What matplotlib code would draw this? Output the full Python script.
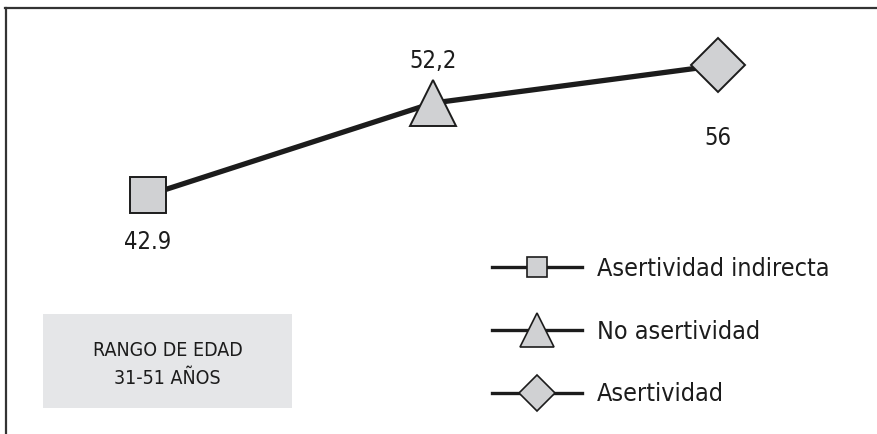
import matplotlib.pyplot as plt
from matplotlib import font_manager
from matplotlib.lines import Line2D
from matplotlib.patches import Rectangle

# pick a regular-weight narrow face if one is installed
narrow = None
for f in font_manager.fontManager.ttflist:
    if f.stretch in ('condensed', 'semi-condensed', 'extra-condensed') or \
            'Condensed' in f.fname or f.name == 'Liberation Sans Narrow':
        if f.weight in ('normal', 400, 'regular') and f.style == 'normal':
            narrow = f.fname
            break
if narrow:
    fp = font_manager.FontProperties(fname=narrow)
else:
    fp = font_manager.FontProperties(family='DejaVu Sans')
plt.rcParams['font.family'] = ['DejaVu Sans']

categories = ['Asertividad indirecta', 'No asertividad', 'Asertividad']
values = [42.9, 52.2, 56.0]
value_labels = ['42.9', '52,2', '56']
markers = ['s', '^', 'D']
marker_sizes = [26, 33, 27]
label_offsets = [(0, -34), (0, 30), (0, -52)]
box_lines = ['RANGO DE EDAD', '31-51 AÑOS']

face = '#d0d1d3'
ink = '#1c1c1c'

fig = plt.figure(figsize=(8.77, 4.34), dpi=100)
ax = fig.add_axes([0, 0, 1, 1])
ax.set_xlim(-0.519, 2.558)
ax.set_ylim(18.8, 62.6)
ax.axis('off')

xs = list(range(len(values)))
ax.plot(xs, values, color=ink, lw=3.8, zorder=2, solid_capstyle='butt')
for x, v, m, ms, lab, off in zip(xs, values, markers, marker_sizes,
                                 value_labels, label_offsets):
    ax.plot(x, v, marker=m, ms=ms, mfc=face, mec=ink, mew=1.4, zorder=3)
    ax.annotate(lab, (x, v), xytext=off, textcoords='offset points',
                ha='center', va='center', fontproperties=fp, fontsize=17,
                color=ink)

# legend with smaller marker keys
handles = [Line2D([], [], color=ink, lw=2.4, marker=m, ms=s, mfc=face,
                  mec=ink, mew=1.2)
           for m, s in zip(markers, [14, 24, 18])]
leg_fp = fp.copy()
leg_fp.set_size(18)
ax.legend(handles, categories, loc='upper left',
          bbox_to_anchor=(0.535, 0.46), frameon=False, prop=leg_fp,
          handlelength=3.6, handletextpad=0.6, labelspacing=1.55,
          labelcolor=ink)

# age range box
ax.add_patch(Rectangle((0.049, 0.060), 0.284, 0.216, transform=ax.transAxes,
                       facecolor='#e5e6e8', edgecolor='none', zorder=0))
ax.text(0.191, 0.193, box_lines[0], transform=ax.transAxes, ha='center',
        va='center', fontproperties=fp, fontsize=14, color=ink)
ax.text(0.191, 0.128, box_lines[1], transform=ax.transAxes, ha='center',
        va='center', fontproperties=fp, fontsize=14, color=ink)

# frame: top and left rules only
ax.plot([0.006, 1.0], [0.982, 0.982], transform=ax.transAxes, color='#333333',
        lw=1.6, clip_on=False)
ax.plot([0.007, 0.007], [0.0, 0.982], transform=ax.transAxes, color='#333333',
        lw=1.6, clip_on=False)

fig.savefig('out.png', dpi=100)
